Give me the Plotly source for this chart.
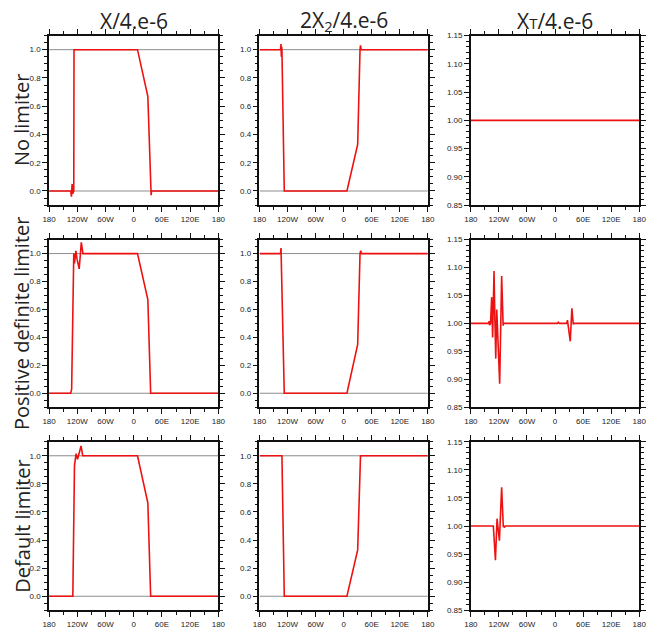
import plotly.graph_objects as go

# ---------------- data ----------------
col_titles = ["X/4.e-6", "2X<sub>2</sub>/4.e-6", "X<span style='font-size:15px'>T</span>/4.e-6"]
row_titles = ["No limiter", "Positive definite limiter", "Default limiter"]

lon_tickvals = [-180, -120, -60, 0, 60, 120, 180]
lon_ticktext = ["180", "120W", "60W", "0", "60E", "120E", "180"]
ref_levels = [0, 1]

# Row 1: no limiter
x_a1 = [-180, -134, -132.5, -131, -130, -129, -127.5, -127, 8, 30, 36, 37, 38, 180]
y_a1 = [0, 0, -0.04, 0.05, -0.02, 0.0, 0.0, 1.0, 1.0, 0.67, 0.0, -0.03, 0, 0]
x_b1 = [-180, -135, -134, -133.3, -132.6, -132, -127, 7, 30, 35, 36, 37.5, 180]
y_b1 = [1, 1, 1.04, 0.95, 1.02, 1.0, 0, 0, 0.33, 1.0, 1.03, 1.0, 1]
x_c1 = [-180, 180]
y_c1 = [1.0, 1.0]

# Row 2: positive definite limiter
x_a2 = [-180, -134, -132, -127.5, -126, -123, -120.5, -116, -111.5, -108, 8, 30, 36, 180]
y_a2 = [0, 0, 0.03, 1.0, 0.93, 1.02, 0.96, 0.89, 1.08, 1.0, 1.0, 0.67, 0, 0]
x_b2 = [-180, -135, -134, -133.3, -132.5, -127, 7, 30, 35, 36.5, 38, 180]
y_b2 = [1, 1, 1.04, 0.94, 1.0, 0, 0, 0.35, 1.0, 1.02, 1.0, 1]
x_c2 = [-180, -142, -141, -140, -138, -135.5, -133.5, -130.5, -128.5, -126.8, -124.7,
        -123.5, -118.4, -114.2, -111, -110, 5, 7, 9, 25, 26.5, 28, 32.5, 36, 39, 40, 180]
y_c2 = [1, 1, 1.004, 0.997, 1.0, 1.047, 0.975, 1.094, 1.0, 0.937, 1.025,
        1.0, 0.892, 1.085, 0.996, 1.0, 1.0, 1.002, 1.0, 1.0, 1.006, 0.998, 0.968, 1.027, 0.998, 1.0, 1]

# Row 3: default limiter
x_a3 = [-180, -129.5, -126, -122.5, -119.5, -117.5, -112, -108.5, 8, 30, 36, 180]
y_a3 = [0, 0, 0.93, 1.015, 0.975, 1.0, 1.07, 1.0, 1.0, 0.665, 0, 0]
x_b3 = [-180, -132, -127, 7, 30, 36, 180]
y_b3 = [1, 1, 0, 0, 0.33, 1.0, 1]
x_c3 = [-180, -132, -127.5, -124, -119, -114.2, -110.7, -108, -107, 180]
y_c3 = [1, 1, 0.939, 1.013, 0.974, 1.069, 0.999, 0.998, 1.0, 1]

panels = [
    [(x_a1, y_a1), (x_b1, y_b1), (x_c1, y_c1)],
    [(x_a2, y_a2), (x_b2, y_b2), (x_c2, y_c2)],
    [(x_a3, y_a3), (x_b3, y_b3), (x_c3, y_c3)],
]

# ---------------- layout geometry ----------------
W, H = 656, 636
col_px = [(43, 216), (258, 430), (474, 646)]
row_px = [(32, 204), (239, 409), (444, 615)]

fig = go.Figure()
layout = dict(
    width=W, height=H, margin=dict(l=0, r=0, t=0, b=0),
    paper_bgcolor="white", plot_bgcolor="white", showlegend=False,
)
annotations = []

tick_font = dict(family="Liberation Sans, Arial, sans-serif", size=8, color="#222")

k = 0
for r in range(3):
    for c in range(3):
        k += 1
        xa = "xaxis" if k == 1 else f"xaxis{k}"
        ya = "yaxis" if k == 1 else f"yaxis{k}"
        xr = "x" if k == 1 else f"x{k}"
        yr = "y" if k == 1 else f"y{k}"
        x0, x1 = col_px[c]
        y0, y1 = row_px[r]
        layout[xa] = dict(
            domain=[x0 / W, x1 / W], anchor=yr, range=[-180, 180],
            tickvals=lon_tickvals, ticktext=lon_ticktext,
            ticks="outside", ticklen=5, tickwidth=1, tickcolor="#111",
            minor=dict(dtick=30, tick0=-180, ticks="outside", ticklen=3, tickcolor="#111"),
            showline=True, linecolor="#111", linewidth=1.6, mirror="ticks",
            showgrid=False, zeroline=False, tickfont=tick_font,
        )
        if c < 2:
            yax = dict(range=[-0.1, 1.1], tick0=0, dtick=0.2, tickformat=".1f",
                       minor=dict(dtick=0.05, tick0=0, ticks="outside", ticklen=3, tickcolor="#111"))
        else:
            yax = dict(range=[0.85, 1.15], tick0=0.85, dtick=0.05, tickformat=".2f",
                       minor=dict(dtick=0.01, tick0=0.85, ticks="outside", ticklen=3, tickcolor="#111"))
        yax.update(
            domain=[1 - y1 / H, 1 - y0 / H], anchor=xr,
            ticks="outside", ticklen=5, tickwidth=1, tickcolor="#111",
            showline=True, linecolor="#111", linewidth=1.6, mirror="ticks",
            showgrid=False, zeroline=False, tickfont=tick_font,
        )
        layout[ya] = yax

        if c < 2:
            for lv in ref_levels:
                fig.add_trace(go.Scatter(
                    x=[lon_tickvals[0], lon_tickvals[-1]], y=[lv, lv], mode="lines",
                    line=dict(color="#8c8c8c", width=1), xaxis=xr, yaxis=yr, hoverinfo="skip"))
        xs, ys = panels[r][c]
        fig.add_trace(go.Scatter(
            x=xs, y=ys, mode="lines", line=dict(color="#ee1111", width=1.6),
            xaxis=xr, yaxis=yr))

# column titles
for c in range(3):
    x0, x1 = col_px[c]
    annotations.append(dict(
        text=col_titles[c], x=(x0 + x1) / 2 / W, y=1 - 17 / H, xref="paper", yref="paper",
        showarrow=False, xanchor="center", yanchor="middle",
        font=dict(family="Open Sans, Noto Sans, sans-serif", size=21, color="#222")))

# row titles
for r in range(3):
    y0, y1 = row_px[r]
    annotations.append(dict(
        text=row_titles[r], x=15 / W, y=1 - (y0 + y1) / 2 / H, xref="paper", yref="paper",
        showarrow=False, textangle=-90, xanchor="center", yanchor="middle",
        font=dict(family="Open Sans, Noto Sans, sans-serif", size=20, color="#222")))

layout["annotations"] = annotations
fig.update_layout(**layout)
fig.write_html("out.html")
